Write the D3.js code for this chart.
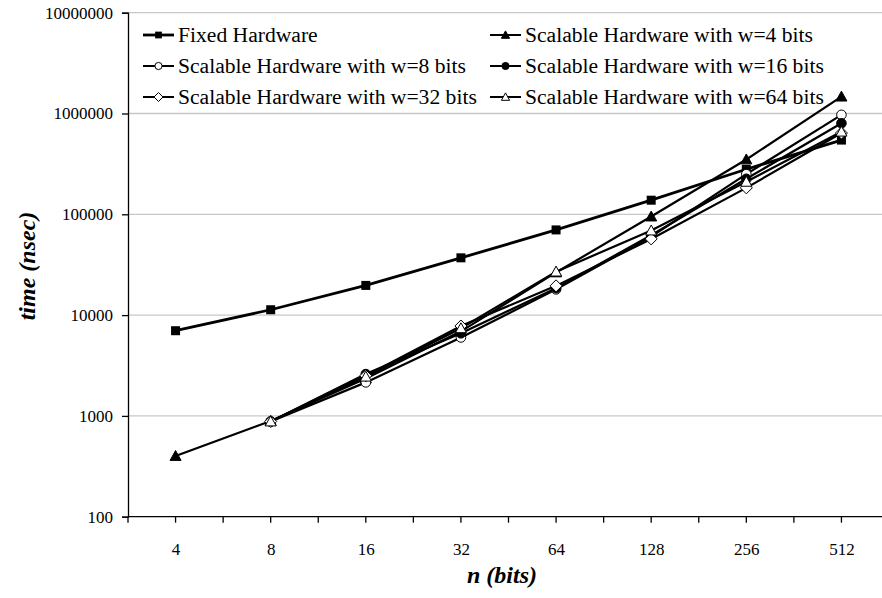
<!DOCTYPE html>
<html><head><meta charset="utf-8">
<script src="https://cdn.jsdelivr.net/npm/d3@7"></script>
<style>body{margin:0;background:#fff}svg{display:block}</style>
</head><body>
<svg id="c" width="882" height="598"></svg>
<script>
const categories = ["4","8","16","32","64","128","256","512"];
const yTicks = [100,1000,10000,100000,1000000,10000000];
const seriesNames = ["Fixed Hardware","Scalable Hardware with w=4 bits","Scalable Hardware with w=8 bits","Scalable Hardware with w=16 bits","Scalable Hardware with w=32 bits","Scalable Hardware with w=64 bits"];
const fixedHW = [7000, 11300, 19700, 37000, 70000, 138000, 280000, 545000];
const w4  = [400, 890, 2350, 6900, 26500, 95000, 350000, 1470000];
const w8  = [null, 880, 2150, 6000, 18000, 60000, 250000, 970000];
const w16 = [null, 880, 2600, 6600, 18500, 62000, 225000, 800000];
const w32 = [null, 880, 2500, 7800, 19500, 57000, 183000, 640000];
const w64 = [null, 880, 2450, 7400, 27000, 69000, 210000, 660000];
const seriesValues = [fixedHW, w4, w8, w16, w32, w64];
const markers = ["square","triUp","circleOpen","circleFilled","diamondOpen","triOpen"];

const FONT = "'Liberation Serif', 'Times New Roman', Tinos, 'DejaVu Serif', serif";
const svg = d3.select("#c");
const L=128, R=889, T=12.7, B=516.7;
const x = d3.scalePoint().domain(categories).range([L,R]).padding(0.5);
const y = d3.scaleLog().domain([100,1e7]).range([B,T]);

svg.append("g").selectAll("line").data(yTicks.slice(1)).join("line")
  .attr("x1",L).attr("x2",R).attr("y1",d=>y(d)).attr("y2",d=>y(d))
  .attr("stroke","#c8c8c8").attr("stroke-width",1.3);

const ya = svg.append("g").attr("transform",`translate(${L},0)`)
  .call(d3.axisLeft(y).tickValues(yTicks).tickFormat(d3.format("d")).tickSize(6).tickPadding(9));
ya.attr("font-family",null);
ya.select(".domain").attr("stroke","#000").attr("stroke-width",1.3);
ya.selectAll(".tick line").attr("stroke","#000").attr("stroke-width",1.3);
ya.selectAll(".tick text").attr("font-size",17).style("font-family",FONT).attr("fill","#000");

const xa = svg.append("g").attr("transform",`translate(0,${B})`)
  .call(d3.axisBottom(x).tickSize(0).tickPadding(26));
xa.attr("font-family",null);
xa.select(".domain").attr("d",`M${L},0H${R}`).attr("stroke","#000").attr("stroke-width",1.3);
xa.selectAll(".tick text").attr("font-size",17).style("font-family",FONT).attr("fill","#000");
const step = x.step()/2;
const halfTicks = d3.range(0, categories.length*2+1).map(k=>L+k*step);
svg.append("g").selectAll("line").data(halfTicks).join("line")
  .attr("x1",d=>d).attr("x2",d=>d).attr("y1",B).attr("y2",B+6)
  .attr("stroke","#000").attr("stroke-width",1.3);

svg.append("text").attr("x",502).attr("y",583).attr("text-anchor","middle").style("font-family",FONT)
  .attr("font-size",24).attr("font-weight","bold").attr("font-style","italic").text("n (bits)");
svg.append("text").attr("transform","translate(35,266) rotate(-90)").attr("text-anchor","middle").style("font-family",FONT)
  .attr("font-size",24).attr("font-weight","bold").attr("font-style","italic").text("time (nsec)");

function drawMarker(g, type, cx, cy, s){
  s = s||1;
  if(type==="square") g.append("rect").attr("x",cx-4.5*s).attr("y",cy-4.5*s).attr("width",9*s).attr("height",9*s).attr("fill","#000");
  else if(type==="triUp"||type==="triOpen"){
    const h=5.5*s;
    g.append("path").attr("d",`M${cx},${cy-h}L${cx+h},${cy+h*0.8}L${cx-h},${cy+h*0.8}Z`)
      .attr("fill",type==="triUp"?"#000":"#fff").attr("stroke","#000").attr("stroke-width",1);
  } else if(type==="circleOpen"||type==="circleFilled"){
    g.append("circle").attr("cx",cx).attr("cy",cy).attr("r",4.8*s)
      .attr("fill",type==="circleFilled"?"#000":"#fff").attr("stroke","#000").attr("stroke-width",1);
  } else if(type==="diamondOpen"){
    const h=6*s;
    g.append("path").attr("d",`M${cx},${cy-h}L${cx+h},${cy}L${cx},${cy+h}L${cx-h},${cy}Z`)
      .attr("fill","#fff").attr("stroke","#000").attr("stroke-width",1);
  }
}

const line = d3.line().defined(d=>d.v!=null).x(d=>x(d.c)).y(d=>y(d.v));
seriesValues.forEach((vals,i)=>{
  const pts = vals.map((v,j)=>({c:categories[j],v}));
  svg.append("path").datum(pts).attr("d",line).attr("fill","none")
    .attr("stroke","#000").attr("stroke-width",i===0?2.8:2.2);
});
seriesValues.forEach((vals,i)=>{
  const g = svg.append("g");
  vals.forEach((v,j)=>{ if(v!=null) drawMarker(g, markers[i], x(categories[j]), y(v)); });
});

const legX=[143,490], legY=[35,66,97];
seriesNames.forEach((nm,i)=>{
  const col=i%2, row=Math.floor(i/2);
  const lx=legX[col], ly=legY[row];
  const g=svg.append("g");
  g.append("line").attr("x1",lx).attr("x2",lx+31).attr("y1",ly).attr("y2",ly).attr("stroke","#000").attr("stroke-width",i===0?2.8:2);
  drawMarker(g, markers[i], lx+15.5, ly, 0.75);
  g.append("text").attr("x",lx+35).attr("y",ly+7).attr("font-size",21.6).style("font-family",FONT).attr("fill","#000").text(nm);
});
</script>
</body></html>
